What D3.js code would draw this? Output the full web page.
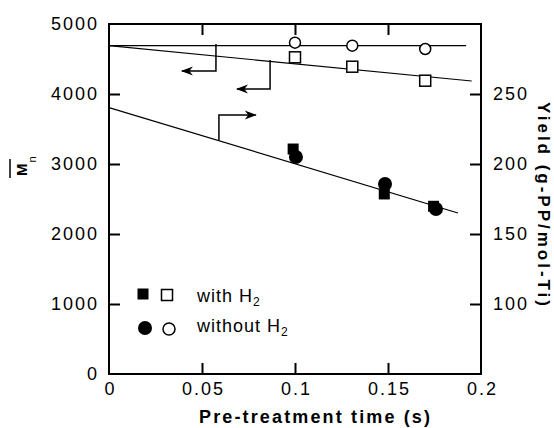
<!DOCTYPE html>
<html>
<head>
<meta charset="utf-8">
<script src="https://cdn.jsdelivr.net/npm/d3@7"></script>
<style>
  html, body { margin: 0; padding: 0; background: #fff; }
  svg { display: block; }
</style>
</head>
<body>
<script>
// ---- data ----
const timeTicks = [0, 0.05, 0.1, 0.15, 0.2];
const timeTickLabels = ["0", "0.05", "0.1", "0.15", "0.2"];
const mnTicks = [0, 1000, 2000, 3000, 4000, 5000];
const yieldTicks = [100, 150, 200, 250];

// Mn (left axis), open symbols
const mnTimeWithH2 = [0.1, 0.1308, 0.17];
const mnWithH2 = [4524, 4390, 4190];          // open squares
const mnTimeWithoutH2 = [0.1, 0.1308, 0.17];
const mnWithoutH2 = [4733, 4690, 4643];       // open circles

// Yield (right axis), filled symbols
const yieldTimeWithH2 = [0.099, 0.148, 0.1745];
const yieldWithH2 = [210.7, 178.6, 169.8];    // filled squares
const yieldTimeWithoutH2 = [0.1005, 0.1484, 0.1758];
const yieldWithoutH2 = [205, 185.7, 167.9];   // filled circles

// fitted lines
const fitMnWithoutTime = [0, 0.192];
const fitMnWithout = [4690, 4690];
const fitMnWithTime = [0, 0.195];
const fitMnWith = [4690, 4186];
const fitYieldTime = [0, 0.1876];
const fitYield = [240.3, 165];

// pointer arrows (time, value)
const arrowMnWithoutTime = [0.0575, 0.0575, 0.0392];
const arrowMnWithoutVal = [4714, 4329, 4329];
const arrowMnWithTime = [0.0866, 0.0866, 0.0688];
const arrowMnWithVal = [4486, 4071, 4071];
const arrowYieldTime = [0.0591, 0.0591, 0.0789];
const arrowYieldVal = [217, 235, 235];

const legendLabels = ["with ", "without "];

// ---- drawing ----
const W = 554, H = 428;
const svg = d3.select("body").append("svg").attr("width", W).attr("height", H);

const x = d3.scaleLinear().domain([0, 0.2]).range([109, 481]);
const yL = d3.scaleLinear().domain([0, 5000]).range([374, 24]);
const yR = d3.scaleLinear().domain([50, 300]).range([374, 24]);

const tickFont = "'Liberation Sans', Arial, sans-serif";

svg.append("defs").append("marker")
  .attr("id", "dart").attr("markerUnits", "userSpaceOnUse")
  .attr("viewBox", "-12 -6 14 12").attr("refX", 0).attr("refY", 0)
  .attr("markerWidth", 14).attr("markerHeight", 12).attr("orient", "auto")
  .append("path").attr("d", "M1,0 L-11,-4.5 L-7.5,0 L-11,4.5 Z").attr("fill", "#000");

function styleAxis(g) {
  g.select(".domain").remove();
  g.selectAll(".tick line").attr("stroke", "#000").attr("stroke-width", 2);
  g.selectAll(".tick text").attr("fill", "#000")
    .style("font-family", tickFont).style("font-size", "18px").style("letter-spacing", "2px");
}

// left axis
svg.append("g").attr("transform", `translate(${x(0)},0)`)
  .call(d3.axisLeft(yL).tickValues(mnTicks).tickSize(-11).tickPadding(10).tickFormat(d3.format("d")))
  .call(styleAxis)
  .call(g => g.selectAll(".tick").filter(d => d === 0 || d === 5000).select("line").remove());

// right axis
svg.append("g").attr("transform", `translate(${x(0.2)},0)`)
  .call(d3.axisRight(yR).tickValues(yieldTicks).tickSize(-11).tickPadding(12).tickFormat(d3.format("d")))
  .call(styleAxis);

// bottom axis
svg.append("g").attr("transform", `translate(0,${yL(0)})`)
  .call(d3.axisBottom(x).tickValues(timeTicks).tickSize(-11).tickPadding(8)
        .tickFormat((d, i) => timeTickLabels[i]))
  .call(styleAxis)
  .call(g => g.selectAll(".tick text").attr("dx", "1"))
  .call(g => g.selectAll(".tick").filter(d => d === 0 || d === 0.2).select("line").remove());

// top axis
svg.append("g").attr("transform", `translate(0,${yL(5000)})`)
  .call(d3.axisTop(x).tickValues(timeTicks.slice(1, -1)).tickSize(-11).tickFormat(""))
  .call(styleAxis);

// frame
svg.append("rect")
  .attr("x", x(0)).attr("y", yL(5000))
  .attr("width", x(0.2) - x(0)).attr("height", yL(0) - yL(5000))
  .attr("fill", "none").attr("stroke", "#000").attr("stroke-width", 2);

// fit lines
const lineGen = (sx, sy) => d3.line().x(d => sx(d[0])).y(d => sy(d[1]));
const zip = (a, b) => a.map((v, i) => [v, b[i]]);

svg.append("path").datum(zip(fitMnWithoutTime, fitMnWithout))
  .attr("d", lineGen(x, yL)).attr("fill", "none").attr("stroke", "#000").attr("stroke-width", 1.2);
svg.append("path").datum(zip(fitMnWithTime, fitMnWith))
  .attr("d", lineGen(x, yL)).attr("fill", "none").attr("stroke", "#000").attr("stroke-width", 1.2);
svg.append("path").datum(zip(fitYieldTime, fitYield))
  .attr("d", lineGen(x, yR)).attr("fill", "none").attr("stroke", "#000").attr("stroke-width", 1.2);

// arrows
[[arrowMnWithoutTime, arrowMnWithoutVal, yL],
 [arrowMnWithTime, arrowMnWithVal, yL],
 [arrowYieldTime, arrowYieldVal, yR]].forEach(([t, v, sy]) => {
  svg.append("path").datum(zip(t, v))
    .attr("d", lineGen(x, sy)).attr("fill", "none").attr("stroke", "#000")
    .attr("stroke-width", 1.5).attr("marker-end", "url(#dart)");
});

// symbols
const sq = 11, rOpen = 5.5, rFill = 7;
function squares(ts, vs, sy, filled) {
  svg.append("g").selectAll("rect").data(zip(ts, vs)).join("rect")
    .attr("x", d => x(d[0]) - sq / 2).attr("y", d => sy(d[1]) - sq / 2)
    .attr("width", sq).attr("height", sq)
    .attr("fill", filled ? "#000" : "#fff").attr("stroke", "#000").attr("stroke-width", filled ? 0 : 1.5);
}
function circles(ts, vs, sy, filled) {
  svg.append("g").selectAll("circle").data(zip(ts, vs)).join("circle")
    .attr("cx", d => x(d[0])).attr("cy", d => sy(d[1]))
    .attr("r", filled ? rFill : rOpen)
    .attr("fill", filled ? "#000" : "#fff").attr("stroke", "#000").attr("stroke-width", filled ? 0 : 1.5);
}
squares(mnTimeWithH2, mnWithH2, yL, false);
circles(mnTimeWithoutH2, mnWithoutH2, yL, false);
squares(yieldTimeWithH2, yieldWithH2, yR, true);
circles(yieldTimeWithoutH2, yieldWithoutH2, yR, true);

// legend
const leg = svg.append("g");
leg.append("rect").attr("x", 143 - sq / 2).attr("y", 294 - sq / 2).attr("width", sq).attr("height", sq).attr("fill", "#000");
leg.append("rect").attr("x", 167 - sq / 2).attr("y", 295 - sq / 2).attr("width", sq).attr("height", sq)
  .attr("fill", "#fff").attr("stroke", "#000").attr("stroke-width", 1.5);
leg.append("circle").attr("cx", 145).attr("cy", 328).attr("r", rFill).attr("fill", "#000");
leg.append("circle").attr("cx", 169).attr("cy", 329).attr("r", rOpen + 0.5)
  .attr("fill", "#fff").attr("stroke", "#000").attr("stroke-width", 1.5);

[[302, legendLabels[0]], [332, legendLabels[1]]].forEach(([by, lab]) => {
  const t = leg.append("text").attr("x", 197).attr("y", by)
    .style("font-family", tickFont).style("font-size", "18px").style("letter-spacing", "1px");
  t.append("tspan").text(lab + "H");
  t.append("tspan").attr("dy", 4).style("font-size", "12px").text("2");
});

// x title
svg.append("text").attr("x", 199).attr("y", 423)
  .attr("textLength", 231).attr("lengthAdjust", "spacing")
  .style("font-family", tickFont).style("font-weight", "bold").style("font-size", "18px")
  .text("Pre-treatment time (s)");

// right title
svg.append("text").attr("transform", "translate(538,204) rotate(90)")
  .attr("text-anchor", "middle").attr("textLength", 204).attr("lengthAdjust", "spacing")
  .style("font-family", tickFont).style("font-weight", "bold").style("font-size", "17px")
  .text("Yield (g-PP/mol-Ti)");

// left title: M-bar with subscript n
const mg = svg.append("g").attr("transform", "translate(27,176) rotate(-90)");
const mt = mg.append("text").attr("x", 0).attr("y", 0)
  .style("font-family", tickFont).style("font-weight", "bold").style("font-size", "15px");
mt.append("tspan").text("M");
mt.append("tspan").attr("dy", 9).attr("dx", 1).style("font-size", "11px").style("font-weight", "normal").text("n");
mg.append("line").attr("x1", -2).attr("x2", 17).attr("y1", -17).attr("y2", -17)
  .attr("stroke", "#000").attr("stroke-width", 1.5);
</script>
</body>
</html>
